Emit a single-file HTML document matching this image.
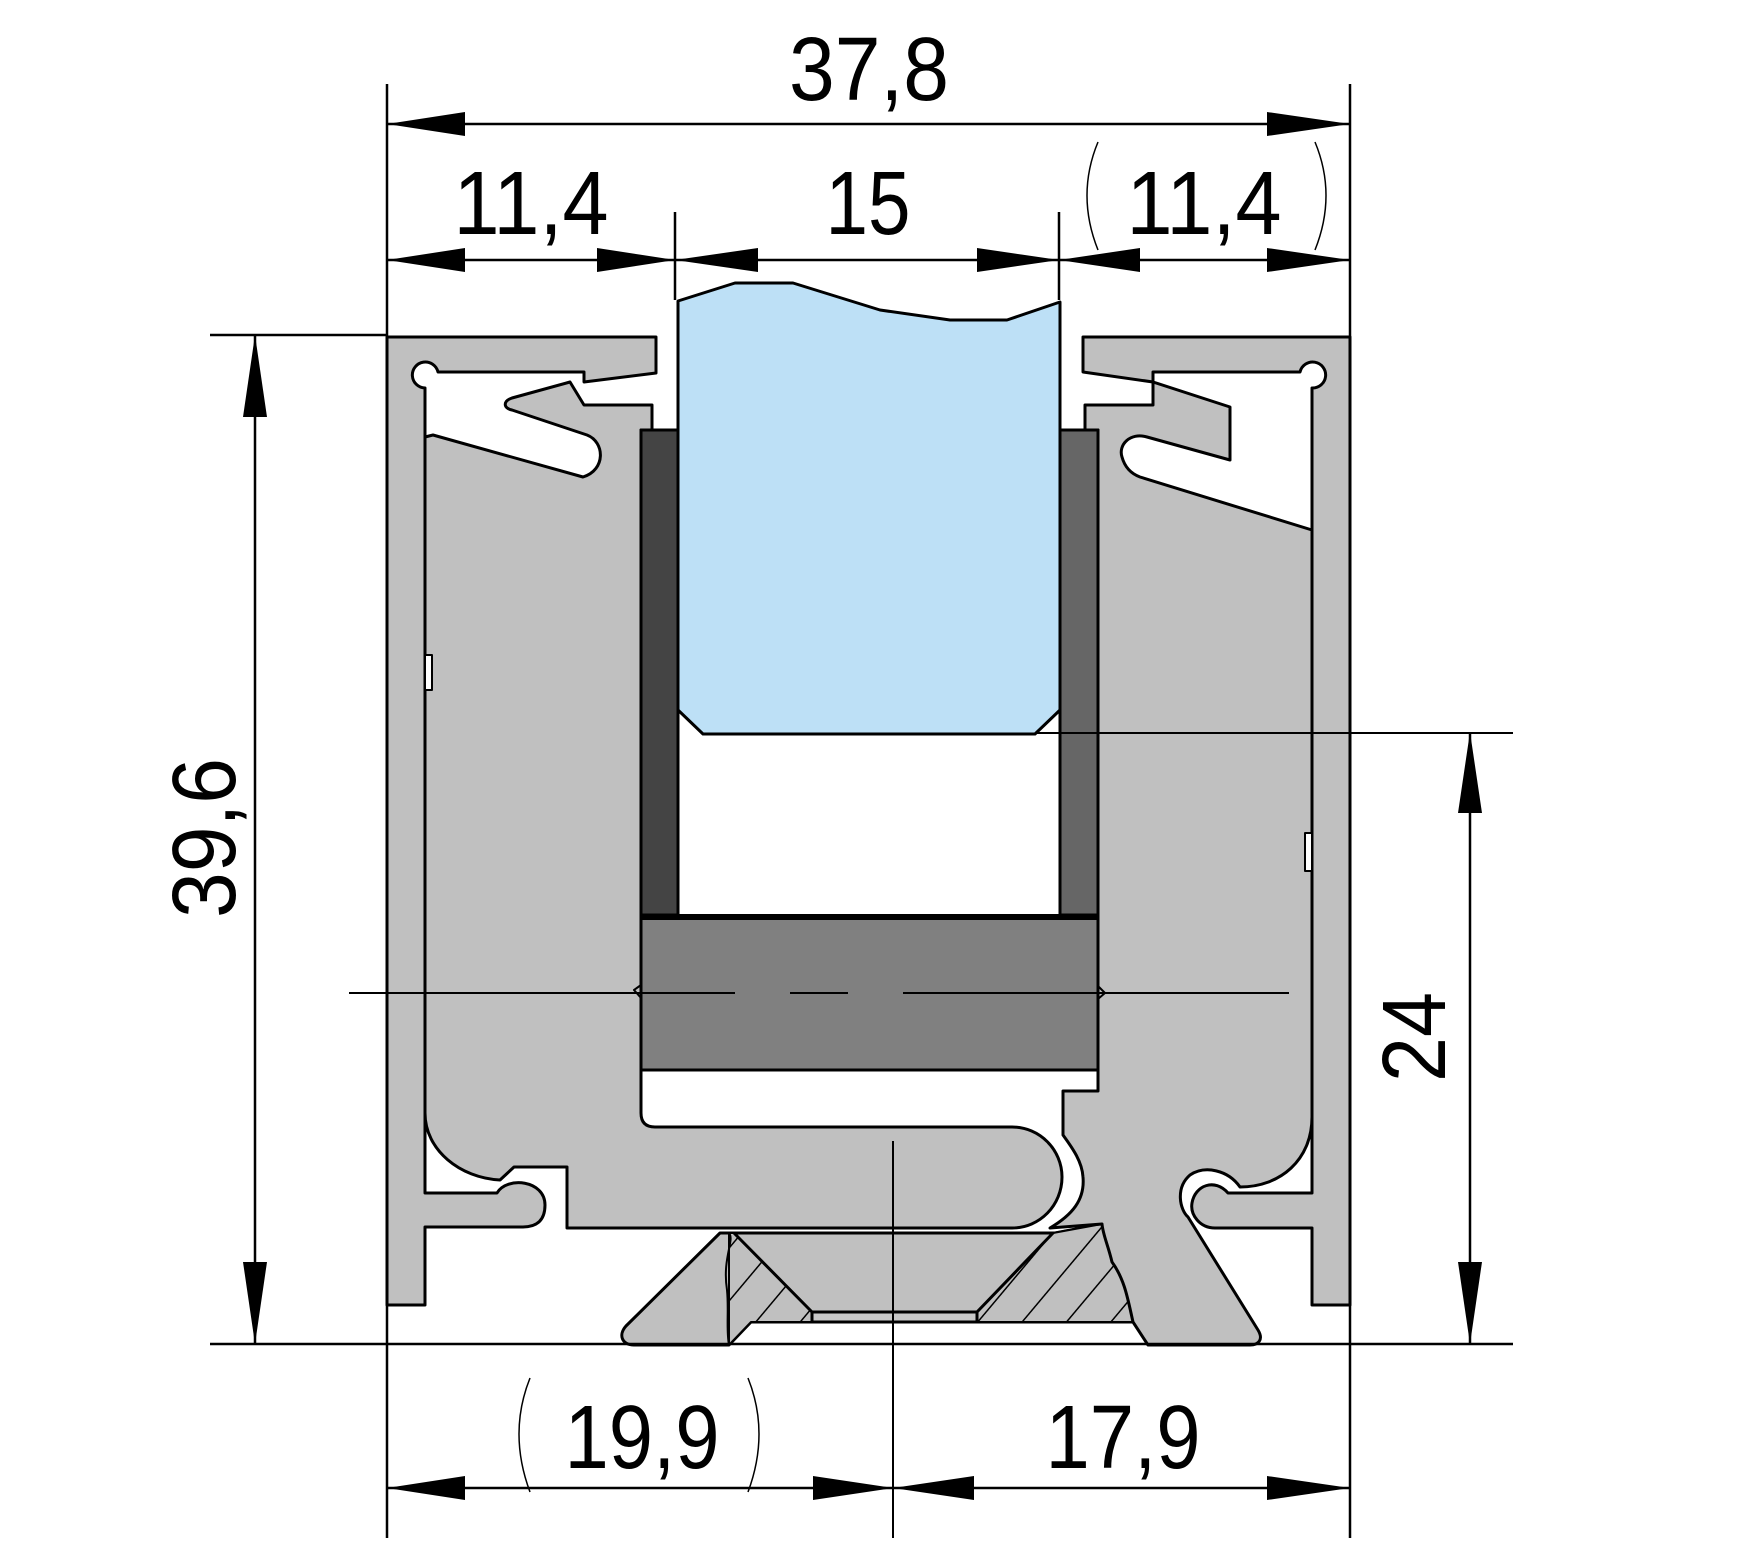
<!DOCTYPE html>
<html><head><meta charset="utf-8"><style>html,body{margin:0;padding:0;background:#fff}svg{display:block}</style></head>
<body>
<svg width="1737" height="1558" viewBox="0 0 1737 1558" xmlns="http://www.w3.org/2000/svg">
<defs>
<pattern id="h" width="34" height="34" patternUnits="userSpaceOnUse" patternTransform="rotate(40)">
<rect width="34" height="34" fill="#c0c0c0"/><line x1="0" y1="0" x2="0" y2="34" stroke="#000" stroke-width="3"/></pattern>
</defs>
<g stroke="#000" stroke-width="3" stroke-linejoin="round">
<!-- insert -->
<path d="M720,1233 H1055 L1102,1224 C1103,1235 1108,1245 1112,1262 C1125,1280 1128,1300 1133,1322 H751 L729,1345 H634 C622,1345 618,1335 626,1326 Z" fill="#c0c0c0"/>
<path d="M729,1233 L734,1233 L812,1312 V1322 H751 L729,1345 Z" fill="url(#h)" stroke-width="2"/>
<path d="M1053,1233 L1102,1224 C1103,1235 1108,1245 1112,1262 C1125,1280 1128,1300 1133,1322 H977 V1312 Z" fill="url(#h)" stroke-width="2"/>
<path d="M734,1233 L812,1312 H977 L1053,1233 Z" fill="#c0c0c0"/>
<rect x="812" y="1312" width="165" height="10" fill="#c8c8c8"/>
<path d="M729,1233 C735,1240 722,1258 727,1290 C729,1310 726,1330 729,1345" fill="none" stroke-width="2"/>
<!-- left wall -->
<path d="M387,337 H656 V373 L584,382 V372 H438 A13,13 0 1,0 425,388 V1193 H497 C507,1176 545,1180 545,1205 C545,1222 535,1227 523,1227 H425 V1305 H387 Z" fill="#c0c0c0"/>
<!-- left body -->
<path d="M652,430 V405 H584 L570,382 L512,398 C503,401 503,408 512,410 L587,435 C605,442 606,470 583,477 L433,435 L425,437 V1113 C425,1150 460,1178 500,1180 L514,1167 H567 V1228 H1012 C1040,1228 1062,1205 1062,1177 C1062,1150 1040,1127 1012,1127 H655 Q641,1127 641,1113 V430 Z" fill="#c0c0c0"/>
<!-- right wall -->
<path d="M1083,337 H1350 V1305 H1312 V1228 H1215 C1200,1228 1190,1215 1192,1203 C1195,1185 1215,1178 1228,1193 H1312 V388 A13,13 0 1,0 1300,372 H1153 V382 L1083,372 Z" fill="#c0c0c0"/>
<!-- right body -->
<path d="M1085,430 V405 H1153 V382 L1230,407 V460 L1147,437 C1130,432 1118,445 1122,457 C1125,468 1132,474 1140,477 L1312,530 V1117 C1312,1160 1280,1187 1240,1187 C1228,1170 1205,1165 1190,1175 C1175,1188 1180,1210 1188,1217 L1258,1330 C1264,1340 1258,1345 1250,1345 H1148 L1133,1322 C1128,1300 1125,1280 1112,1262 C1108,1245 1103,1235 1102,1224 L1050,1228 C1072,1215 1085,1200 1083,1177 C1082,1160 1070,1145 1063,1135 V1091 H1098 V430 Z" fill="#c0c0c0"/>
<rect x="425" y="655" width="7" height="35" fill="#fff" stroke-width="2"/>
<rect x="1305" y="833" width="7" height="38" fill="#fff" stroke-width="2"/>
<!-- gaskets -->
<rect x="641" y="430" width="37" height="485" fill="#444"/>
<rect x="1060" y="430" width="38" height="485" fill="#666"/>
<rect x="641" y="917" width="457" height="153" fill="#808080"/>
<line x1="641" y1="917" x2="1098" y2="917" stroke-width="6"/>
<path d="M641,985 L634,990 L641,998" fill="none" stroke-width="2"/>
<path d="M1098,986 L1105,993 L1098,999" fill="none" stroke-width="2"/>
<!-- glass -->
<path d="M678,301 L735,283 H793 L880,310 L950,320 H1007 L1060,302 V710 L1035,734 H703 L678,710 Z" fill="#bde0f6"/>
</g>
<!-- dimension lines -->
<g stroke="#000" stroke-width="2.5" fill="none">
<line x1="387" y1="84" x2="387" y2="1538"/>
<line x1="1350" y1="84" x2="1350" y2="1538"/>
<line x1="387" y1="124" x2="1350" y2="124"/>
<line x1="387" y1="260" x2="1350" y2="260"/>
<line x1="675" y1="212" x2="675" y2="300"/>
<line x1="1059" y1="212" x2="1059" y2="300"/>
<line x1="255" y1="335" x2="255" y2="1344"/>
<line x1="210" y1="335" x2="387" y2="335"/>
<line x1="210" y1="1344" x2="1513" y2="1344"/>
<line x1="1470" y1="732" x2="1470" y2="1344"/>
<line x1="1035" y1="733" x2="1513" y2="733" stroke-width="2"/>
<line x1="387" y1="1488" x2="1350" y2="1488"/>
<line x1="893" y1="1141" x2="893" y2="1538" stroke-width="2"/>
<path d="M349,993 H735 M790,993 H848 M903,993 H1289" stroke-width="2"/>
<path d="M1098,142 Q1076,195 1098,250 M1315,142 Q1337,195 1315,250 M530,1378 Q508,1433 530,1492 M748,1378 Q770,1433 748,1492" stroke-width="1.5"/>
</g>
<g fill="#000">
<polygon points="387,124 465,112 465,136"/>
<polygon points="1350,124 1267,112 1267,136"/>
<polygon points="387,260 465,248 465,272"/>
<polygon points="675,260 597,248 597,272"/>
<polygon points="675,260 758,248 758,272"/>
<polygon points="1059,260 977,248 977,272"/>
<polygon points="1059,260 1140,248 1140,272"/>
<polygon points="1350,260 1267,248 1267,272"/>
<polygon points="255,335 243,417 267,417"/>
<polygon points="255,1344 243,1262 267,1262"/>
<polygon points="1470,732 1458,813 1482,813"/>
<polygon points="1470,1344 1458,1262 1482,1262"/>
<polygon points="387,1488 465,1476 465,1500"/>
<polygon points="893,1488 813,1476 813,1500"/>
<polygon points="893,1488 974,1476 974,1500"/>
<polygon points="1350,1488 1267,1476 1267,1500"/>
</g>
<g font-family="Liberation Sans, sans-serif" font-size="90" fill="#000" text-anchor="middle">
<text x="869" y="100" textLength="160" lengthAdjust="spacingAndGlyphs">37,8</text>
<text x="531" y="234" textLength="155" lengthAdjust="spacingAndGlyphs">11,4</text>
<text x="868" y="234" textLength="85" lengthAdjust="spacingAndGlyphs">15</text>
<text x="1204" y="234" textLength="155" lengthAdjust="spacingAndGlyphs">11,4</text>
<text x="642" y="1468" textLength="155" lengthAdjust="spacingAndGlyphs">19,9</text>
<text x="1123" y="1468" textLength="155" lengthAdjust="spacingAndGlyphs">17,9</text>
<text transform="translate(235,838) rotate(-90)" x="0" y="0" textLength="160" lengthAdjust="spacingAndGlyphs">39,6</text>
<text transform="translate(1445,1037) rotate(-90)" x="0" y="0" textLength="90" lengthAdjust="spacingAndGlyphs">24</text>
</g>
</svg>
</body></html>
